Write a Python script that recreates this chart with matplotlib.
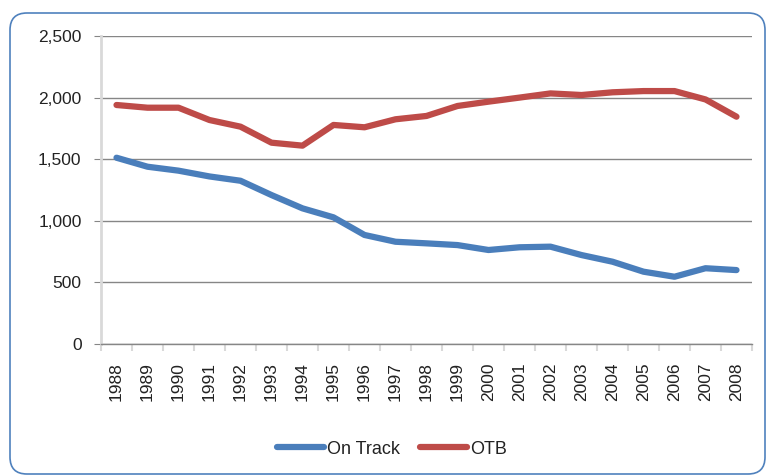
import matplotlib
matplotlib.use("Agg")
import matplotlib.pyplot as plt
from matplotlib.patches import FancyBboxPatch
from matplotlib.ticker import FuncFormatter, FixedLocator
import numpy as np

years = [str(y) for y in range(1988, 2009)]
on_track = [1512, 1439, 1407, 1360, 1325, 1209, 1101, 1028, 885, 830, 817, 803, 763, 785, 790, 722, 668, 587, 546, 615, 600]
otb = [1940, 1918, 1918, 1818, 1764, 1634, 1610, 1778, 1759, 1824, 1851, 1932, 1967, 2000, 2034, 2021, 2043, 2053, 2053, 1985, 1845]
yticks = [0, 500, 1000, 1500, 2000, 2500]

plt.rcParams['font.family'] = ['Liberation Sans', 'DejaVu Sans']

fig = plt.figure(figsize=(7.7, 4.76), dpi=100)
border = FancyBboxPatch((10/770, 2/476), 755/770, 461/476,
                        boxstyle="round,pad=0,rounding_size=0.022",
                        transform=fig.transFigure, facecolor='none',
                        edgecolor='#4F81BD', linewidth=1.2, mutation_aspect=770/476, zorder=-1)
fig.patches.append(border)

ax = fig.add_axes([101/770, 1-344/476, 651/770, 308/476])
ax.patch.set_alpha(0)
x = np.arange(len(years))
ax.plot(x, on_track, color='#4A7EBB', lw=4.5, solid_capstyle='round', solid_joinstyle='round', label='On Track')
ax.plot(x, otb, color='#BE4B48', lw=4.5, solid_capstyle='round', solid_joinstyle='round', label='OTB')

ax.set_xlim(-0.5, len(years) - 0.5)
ax.set_ylim(0, 2500)
ax.set_yticks(yticks)
ax.yaxis.set_major_formatter(FuncFormatter(lambda v, p: f"{int(v):,}"))
ax.grid(axis='y', color='#868686', lw=1)
ax.set_axisbelow(True)

ax.set_xticks(x)
ax.set_xticklabels(years, rotation=90)
ax.xaxis.set_minor_locator(FixedLocator(np.arange(-0.5, len(years), 1)))
ax.tick_params(axis='x', which='major', length=0, pad=13, labelsize=12.5, colors='#222222')
ax.tick_params(axis='x', which='minor', length=5, color='#D9D9D9', width=1.5)
ax.tick_params(axis='y', length=5, color='#868686', labelsize=12.5, pad=9, labelcolor='#222222')

for s in ['top', 'right']:
    ax.spines[s].set_visible(False)
ax.spines['left'].set_color('#D9D9D9')
ax.spines['left'].set_linewidth(2)
ax.spines['bottom'].set_color('#868686')
ax.spines['bottom'].set_linewidth(1)

leg = fig.legend(loc='center', bbox_to_anchor=(392/770, 1-449/476), ncol=2, frameon=False,
                 fontsize=13, handlelength=2.6, handletextpad=0.15, columnspacing=1.1)
for t in leg.get_texts():
    t.set_color('#222222')

fig.savefig('out.png', dpi=100)
